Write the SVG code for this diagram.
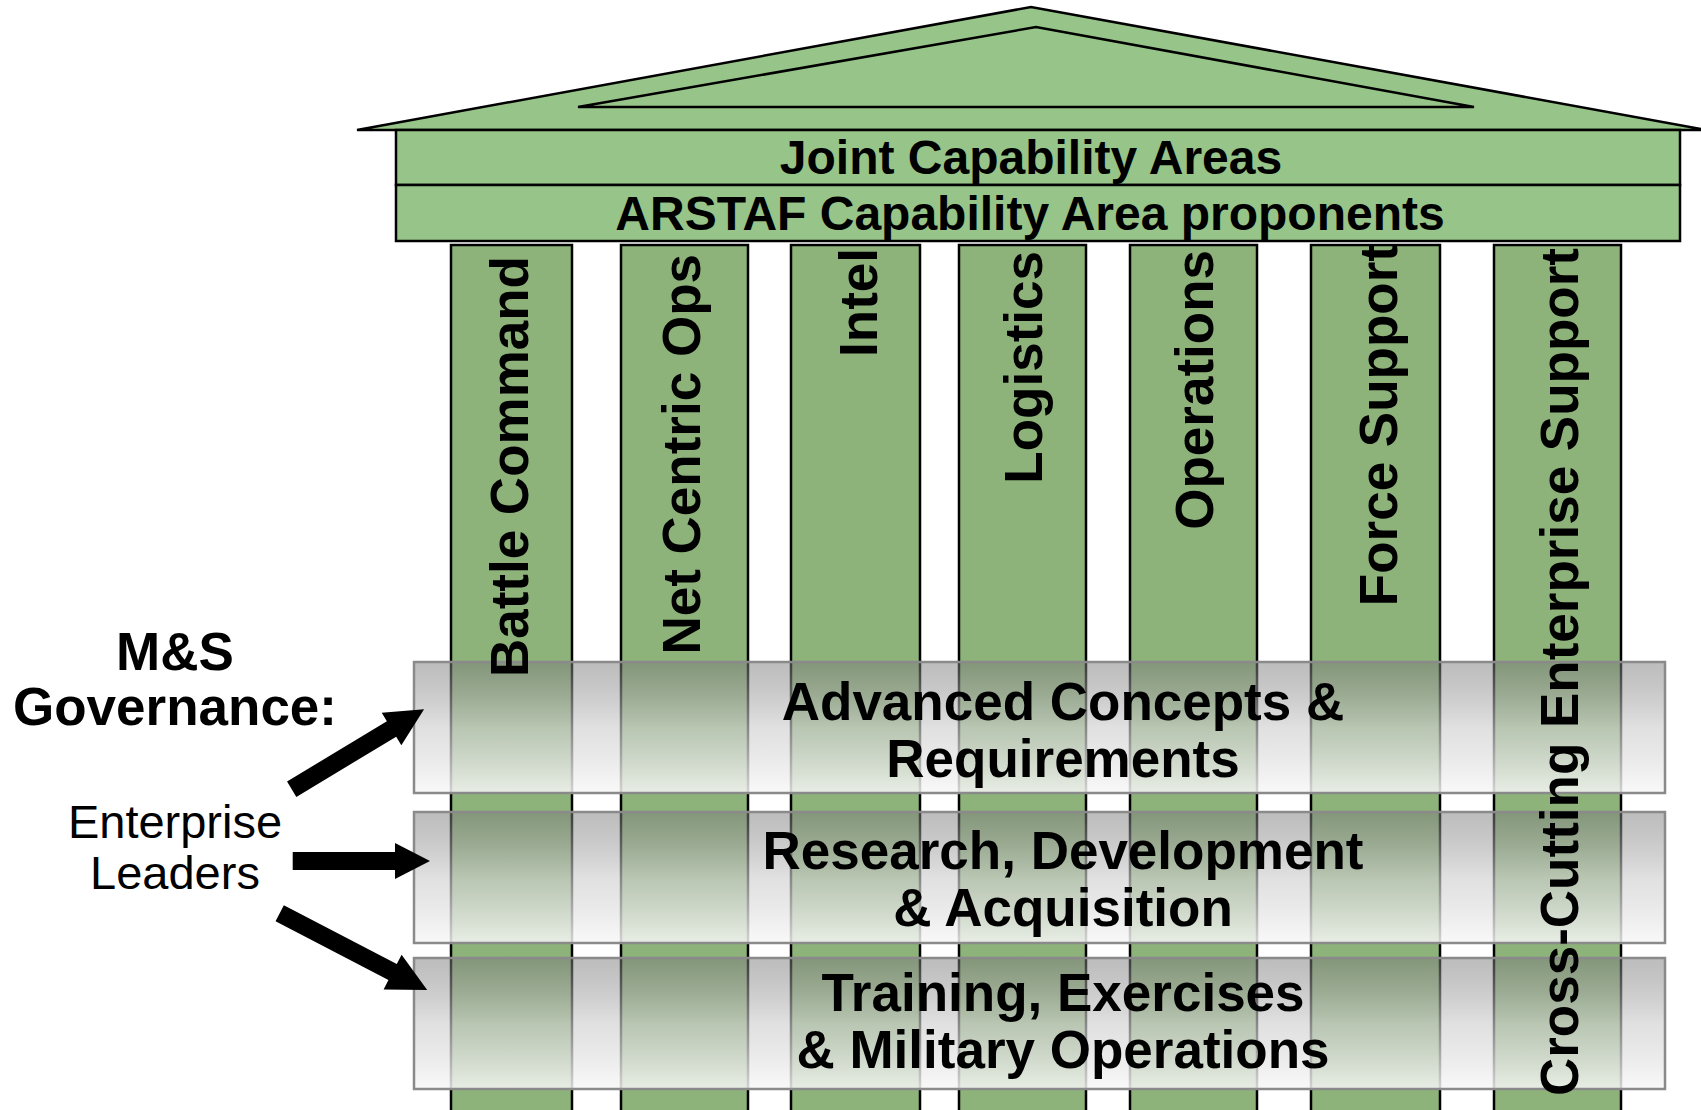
<svg xmlns="http://www.w3.org/2000/svg" width="1701" height="1110" viewBox="0 0 1701 1110">
<style>
.roof{fill:#97c489;stroke:#000;stroke-width:2.5;stroke-linejoin:miter}
.col{fill:#8db37a;stroke:#000;stroke-width:2.5}
.band{fill:url(#bandGrad);stroke:#8a8a8a;stroke-width:2.5}
.t{font-family:"Liberation Sans",Arial,sans-serif;fill:#000}
.hd{font-size:48px;font-weight:bold;text-anchor:middle}
.cl{font-size:53px;font-weight:bold;text-anchor:end}
.rw{font-size:53px;font-weight:bold;text-anchor:middle}
.lf{font-size:53px;font-weight:bold;text-anchor:middle}
.ld{font-size:47px;text-anchor:middle}
.arrow{fill:#000;stroke:none}
</style>
<defs>
<linearGradient id="bandGrad" x1="0" y1="0" x2="0" y2="1">
<stop offset="0" stop-color="#7a7a7a" stop-opacity="0.5"/>
<stop offset="0.5" stop-color="#d0d0d0" stop-opacity="0.65"/>
<stop offset="1" stop-color="#f8f8f8" stop-opacity="0.85"/>
</linearGradient>
</defs>
<rect width="1701" height="1110" fill="#fff"/>

<g id="roof">
<polygon class="roof" points="357,130 1031,7 1701,129 1701,130"/>
<polygon class="roof" points="578,107 1036,27 1474,107"/>
</g>
<g id="jca">
<rect class="roof" x="396" y="130" width="1284" height="55"/>
<text class="t hd" x="1031" y="174">Joint Capability Areas</text>
</g>
<g id="arstaf">
<rect class="roof" x="396" y="185" width="1284" height="56"/>
<text class="t hd" x="1030" y="230">ARSTAF Capability Area proponents</text>
</g>

<g id="col-battle-command"><rect class="col" x="451" y="245" width="121" height="880"/></g>
<g id="col-net-centric-ops"><rect class="col" x="621" y="245" width="127" height="880"/></g>
<g id="col-intel"><rect class="col" x="791" y="245" width="129" height="880"/></g>
<g id="col-logistics"><rect class="col" x="959" y="245" width="127" height="880"/></g>
<g id="col-operations"><rect class="col" x="1130" y="245" width="127" height="880"/></g>
<g id="col-force-support"><rect class="col" x="1311" y="245" width="129" height="880"/></g>
<g id="col-cross-cutting"><rect class="col" x="1494" y="245" width="127" height="880"/></g>

<g id="band-acr"><rect class="band" x="414" y="662" width="1251" height="131"/>
<text class="t rw" x="1063" y="720">Advanced Concepts &amp;</text>
<text class="t rw" x="1063" y="777">Requirements</text></g>
<g id="band-rda"><rect class="band" x="414" y="812" width="1251" height="131"/>
<text class="t rw" x="1063" y="869">Research, Development</text>
<text class="t rw" x="1063" y="926">&amp; Acquisition</text></g>
<g id="band-temo"><rect class="band" x="414" y="958" width="1251" height="131"/>
<text class="t rw" x="1063" y="1011">Training, Exercises</text>
<text class="t rw" x="1063" y="1068">&amp; Military Operations</text></g>

<g id="column-labels">
<text class="t cl" transform="translate(528,256) rotate(-90)">Battle Command</text>
<text class="t cl" transform="translate(700,254) rotate(-90)">Net Centric Ops</text>
<text class="t cl" transform="translate(877,248) rotate(-90)">Intel</text>
<text class="t cl" transform="translate(1042,251) rotate(-90)">Logistics</text>
<text class="t cl" transform="translate(1213,250) rotate(-90)">Operations</text>
<text class="t cl" transform="translate(1397,244) rotate(-90)">Force Support</text>
<text class="t cl" transform="translate(1578,248) rotate(-90)">Cross-Cutting Enterprise Support</text>
</g>

<g id="governance-label">
<text class="t lf" x="175" y="670">M&amp;S</text>
<text class="t lf" x="175" y="725">Governance:</text>
</g>
<g id="enterprise-leaders">
<text class="t ld" x="175" y="838">Enterprise</text>
<text class="t ld" x="175" y="889">Leaders</text>
</g>

<g id="connectors">
<polygon class="arrow" transform="translate(291.7,789.2) rotate(-31.1)" points="0,-9 116.6,-9 116.6,-19 154.6,0 116.6,19 116.6,9 0,9"/>
<polygon class="arrow" transform="translate(292.7,861) rotate(0)" points="0,-9 102.3,-9 102.3,-18 137.3,0 102.3,18 102.3,9 0,9"/>
<polygon class="arrow" transform="translate(279.7,913.3) rotate(27.5)" points="0,-9 127.3,-9 127.3,-19.5 166.3,0 127.3,19.5 127.3,9 0,9"/>
</g>
</svg>
